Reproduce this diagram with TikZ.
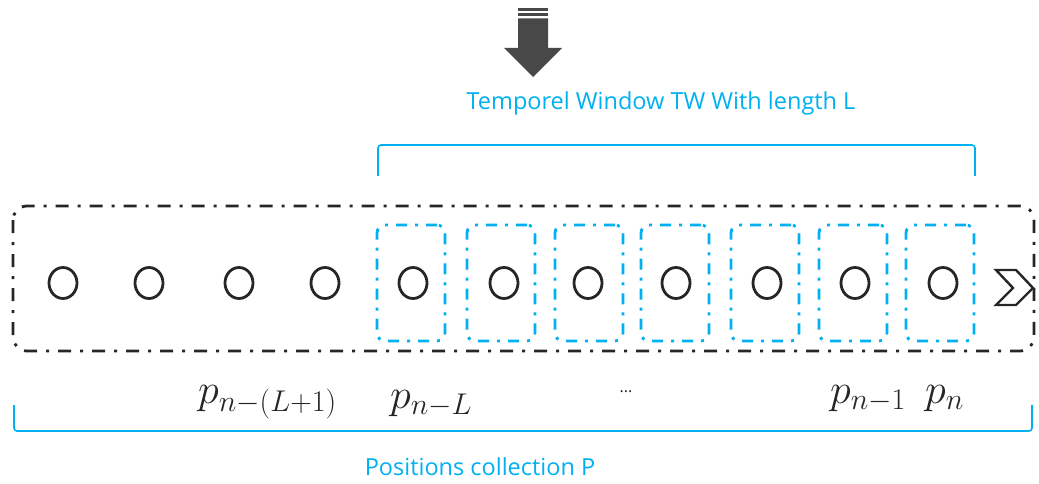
\RequirePackage{fix-cm}
\documentclass[tikz,border=0pt]{standalone}
\usepackage{fontspec}
\setmainfont{Open Sans}
\usetikzlibrary{shapes.geometric}
\DeclareMathSizes{42}{42}{30}{22}
\definecolor{winblue}{RGB}{0,176,240}
\definecolor{darkink}{RGB}{38,38,38}
\definecolor{arrowgray}{RGB}{72,72,72}
\tikzset{
  posdot/.style={ellipse, draw=darkink, line width=2.8pt, minimum width=28pt, minimum height=31pt, inner sep=0pt},
  outerbox/.style={draw=darkink, line width=2.8pt, rounded corners=14pt,
    dash pattern=on 13pt off 9pt on 3pt off 9pt},
  winbox/.style={draw=winblue, line width=2.8pt, rounded corners=8pt,
    dash pattern=on 11pt off 8pt on 3pt off 8pt, minimum width=68pt, minimum height=116pt, inner sep=0pt},
  brace/.style={draw=winblue, line width=1.6pt, rounded corners=3pt},
  captext/.style={text=winblue, font=\fontsize{23.5}{28}\selectfont, inner sep=0pt},
  mathlabel/.style={text=darkink, font=\fontsize{42}{48}\selectfont, inner sep=0pt, anchor=base west},
}
\begin{document}
\begin{tikzpicture}[x=1pt, y=-1pt]
\useasboundingbox (0,0) rectangle (1039,484);

% download arrow
\fill[arrowgray] (518,8) rectangle (548,11);
\fill[arrowgray] (518,13.5) rectangle (548,16.5);
\fill[arrowgray] (518,18.5) -- (548,18.5) -- (548,48) -- (562,48) -- (533,77)
  -- (504,48) -- (518,48) -- cycle;

% window caption and brace
\node[captext] (twcap) at (661,103) {Temporel Window TW With length L};
\coordinate (twl) at (378,176);
\coordinate (twr) at (975,176);
\draw[brace] (twl) -- (378,145) -- (975,145) -- (twr);

% positions collection
\draw[outerbox] (13,206) rectangle (1034,351);

\foreach \i/\x in {1/63, 2/149, 3/239, 4/325}
  \node[posdot] (c\i) at (\x,283) {};

\foreach \i/\x/\bx in {5/413/411, 6/504/501, 7/588/589, 8/676/675, 9/767/765, 10/855/853, 11/943/940}{
  \node[winbox] (b\i) at (\bx,283) {};
  \node[posdot] (c\i) at (\x,283) {};
}

% continuation chevron
\draw[darkink, line width=2.4pt, line join=miter]
  (996,270) -- (1016,270) -- (1033,288) -- (1016,305) -- (996,305) -- (1013,288) -- cycle;

% position labels
\node[mathlabel] (lab1) at (198,403) {$p_{n-(L+1)}$};
\node[mathlabel] (lab2) at (390,408) {$p_{n-L}$};
\node[text=darkink, font=\fontsize{16}{20}\selectfont, inner sep=0pt] (dots) at (626,392) {...};
\node[mathlabel] (lab3) at (830,403) {$p_{n-1}$};
\node[mathlabel] (lab4) at (925,403) {$p_n$};

% collection brace and caption
\coordinate (pcl) at (14,405);
\coordinate (pcr) at (1032,405);
\draw[brace] (pcl) -- (14,431) -- (1032,431) -- (pcr);
\node[captext] (pcap) at (480,467) {Positions collection P};
\end{tikzpicture}
\end{document}
